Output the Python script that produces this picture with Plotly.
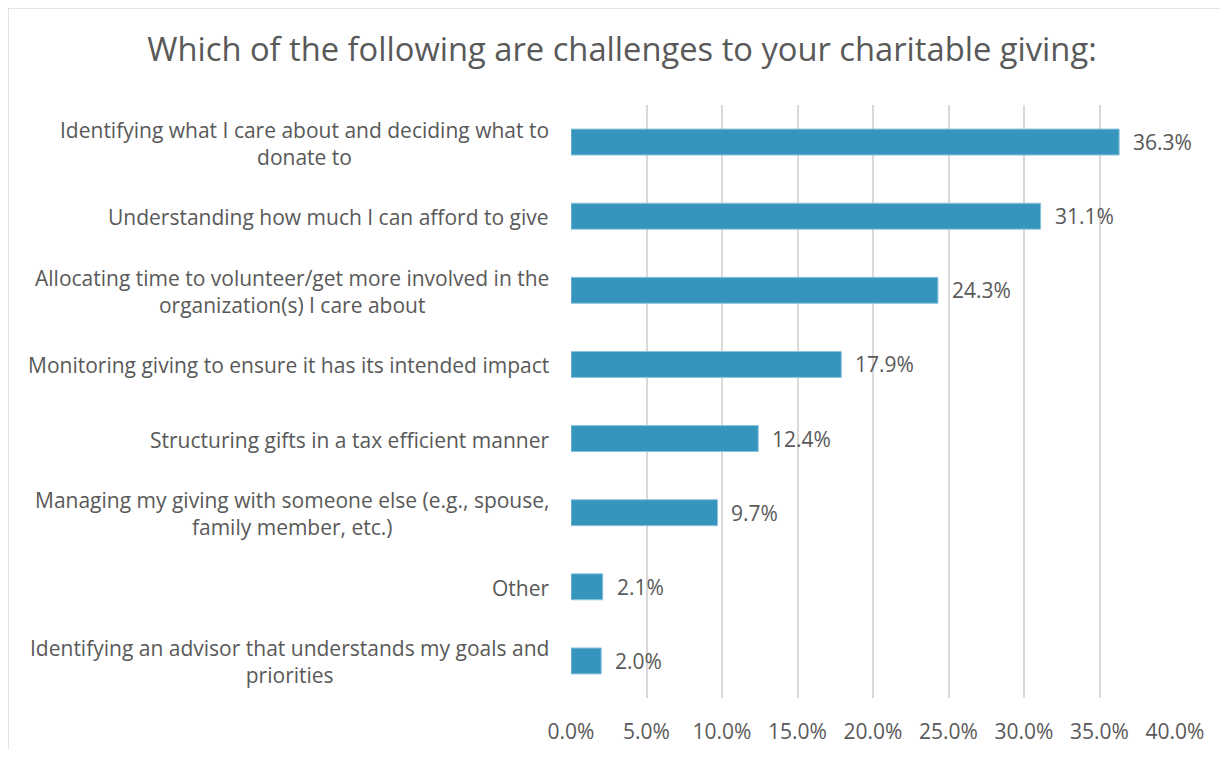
import plotly.graph_objects as go

categories = [
    "Identifying what I care about and deciding what to<br>donate to",
    "Understanding how much I can afford to give",
    "Allocating time to volunteer/get more involved in the<br>organization(s) I care about",
    "Monitoring giving to ensure it has its intended impact",
    "Structuring gifts in a tax efficient manner",
    "Managing my giving with someone else (e.g., spouse,<br>family member, etc.)",
    "Other",
    "Identifying an advisor that understands my goals and<br>priorities",
]
values = [0.363, 0.311, 0.243, 0.179, 0.124, 0.097, 0.021, 0.020]
x_ticks = [0, 0.05, 0.10, 0.15, 0.20, 0.25, 0.30, 0.35, 0.40]

TEXT = "#595959"
FONT = "Open Sans"
FS = 21

OFF = 8  # page body margin
W, H = 1228 - 2 * OFF, 757 - 2 * OFF
L, R, T, B = 571 - OFF, 1228 - OFF - 1175, 105 - OFF, 757 - OFF - 698
pw, ph = W - L - R, H - T - B

fig = go.Figure(go.Bar(
    x=values, y=categories, orientation="h",
    marker=dict(color="#3595BD", line=dict(color="#8CC3DC", width=1)),
    hoverinfo="skip",
))

annotations = []
for c in categories:
    annotations.append(dict(x=0, y=c, xref="paper", yref="y", text=c,
                            showarrow=False, xanchor="right", yanchor="middle",
                            align="center", xshift=-20, yshift=-1,
                            font=dict(family=FONT, size=FS, color=TEXT)))
for c, v in zip(categories, values):
    annotations.append(dict(x=v, y=c, xref="x", yref="y", text=f"{v*100:.1f}%",
                            showarrow=False, xanchor="left", yanchor="middle",
                            xshift=12,
                            font=dict(family=FONT, size=FS, color=TEXT)))

fig.update_layout(
    width=W, height=H,
    margin=dict(l=L, r=R, t=T, b=B, autoexpand=False),
    paper_bgcolor="white", plot_bgcolor="white",
    bargap=0.65,
    showlegend=False,
    title=dict(text="Which of the following are challenges to your charitable giving:",
               x=(622 - OFF) / W, xref="container", xanchor="center",
               y=1 - (50 - OFF) / H, yref="container", yanchor="middle",
               font=dict(family=FONT, size=32.7, color=TEXT)),
    xaxis=dict(range=[0, 0.40], tickvals=x_ticks, tickformat=".1%",
               showgrid=True, gridcolor="#D9D9D9", gridwidth=1.5,
               zeroline=False, showline=False, ticks="", automargin=False,
               tickfont=dict(family=FONT, size=FS, color=TEXT), ticklabelstandoff=19),
    yaxis=dict(autorange="reversed", showticklabels=False, showgrid=False,
               zeroline=False, showline=False, ticks="", automargin=False),
    annotations=annotations,
    shapes=[dict(type="rect", xref="paper", yref="paper",
                 x0=(8 - 571) / pw, x1=(1228 + 20 - 571) / pw,
                 y0=(698 - 777) / ph, y1=(698 - 8) / ph,
                 line=dict(color="#D9D9D9", width=1.5), fillcolor="rgba(0,0,0,0)",
                 layer="below")],
)

fig.write_html("out.html")
